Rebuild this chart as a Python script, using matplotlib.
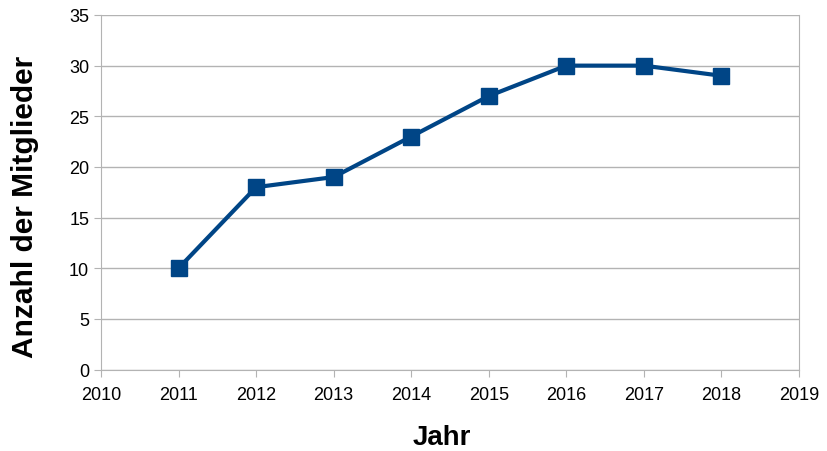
import matplotlib
matplotlib.use("Agg")
from matplotlib import pyplot as plt

plt.rcParams['font.family'] = ['Liberation Sans', 'DejaVu Sans']

jahre = [2011, 2012, 2013, 2014, 2015, 2016, 2017, 2018]
mitglieder = [10, 18, 19, 23, 27, 30, 30, 29]

fig = plt.figure(figsize=(8.27, 4.52), dpi=100)
ax = fig.add_axes([101/827, 1 - 370.5/452, (799 - 101)/827, (370.5 - 16)/452])

ax.plot(jahre, mitglieder, color='#004586', linewidth=3, marker='s',
        markersize=11, zorder=3, clip_on=False)

ax.set_xlim(2010, 2019)
ax.set_ylim(0, 35)
ax.set_xticks(range(2010, 2020))
ax.set_yticks(range(0, 36, 5))
ax.grid(axis='y', color='#b3b3b3', linewidth=1)
ax.set_axisbelow(True)
for s in ['left', 'bottom', 'right']:
    ax.spines[s].set_color('#b3b3b3')
ax.spines['top'].set_visible(False)
ax.tick_params(axis='both', colors='#b3b3b3', labelcolor='black', labelsize=13, length=5)
ax.tick_params(axis='x', pad=7)

ax.set_xlabel('Jahr', fontsize=20, fontweight='bold')
ax.xaxis.set_label_coords((442 - 101) / 698, -(438 - 370.5) / 354.5)
ax.xaxis.label.set_va('center')
ax.set_ylabel('Anzahl der Mitglieder', fontsize=21.5, fontweight='bold')
ax.yaxis.set_label_coords(-(101 - 25) / 698, (370.5 - 207) / 354.5)
ax.yaxis.label.set_va('center')

fig.savefig('out.png', dpi=100)
